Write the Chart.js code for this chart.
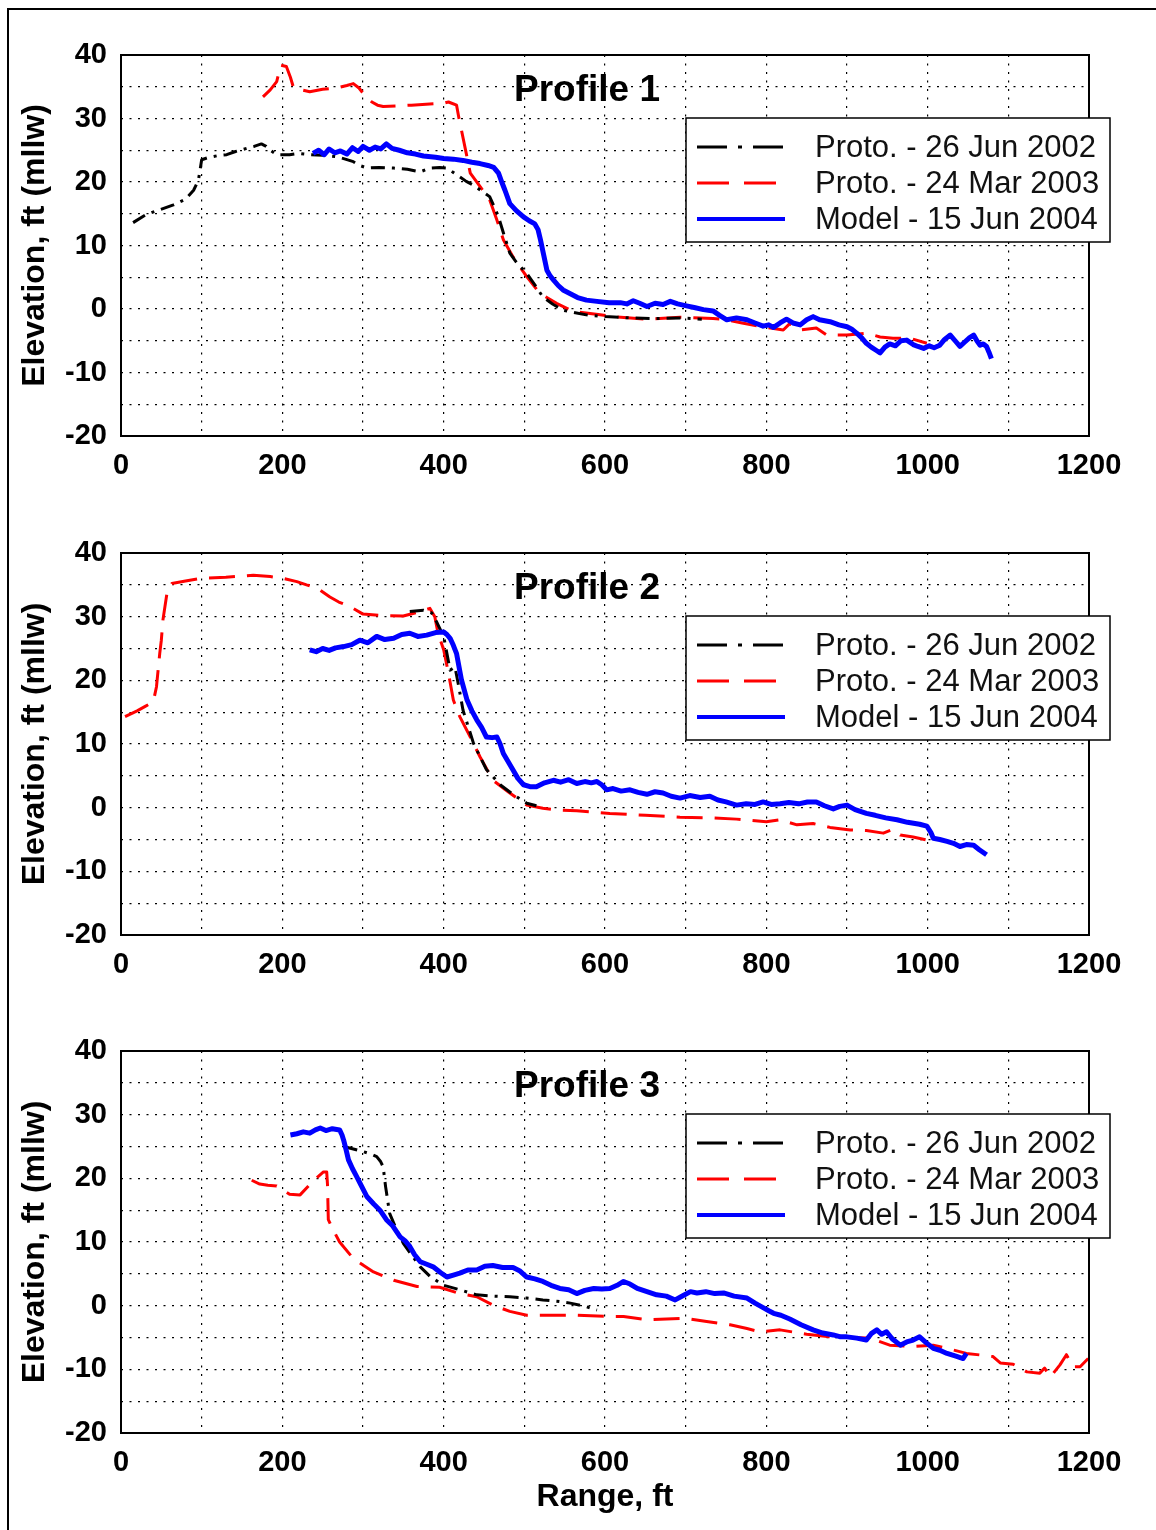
<!DOCTYPE html>
<html>
<head>
<meta charset="utf-8">
<script src="https://cdn.jsdelivr.net/npm/chart.js@4/dist/chart.umd.min.js"></script>
<style>
  html, body { margin: 0; padding: 0; background: #fff; width: 1156px; height: 1530px; overflow: hidden; }
  #frame { position: absolute; left: 7px; top: 8px; width: 1200px; height: 1600px;
           border-left: 2px solid #000; border-top: 2px solid #000; }
  .panel { position: absolute; left: 0; }
</style>
</head>
<body>
<div id="frame"></div>
<canvas id="p1" class="panel" width="1156" height="480" style="top:20px"></canvas>
<canvas id="p2" class="panel" width="1156" height="480" style="top:518px"></canvas>
<canvas id="p3" class="panel" width="1156" height="514" style="top:1016px"></canvas>
<script>
// ---- axis ticks / labels ----
const xTickLabels = [0, 200, 400, 600, 800, 1000, 1200];
const yTickLabels = [-20, -10, 0, 10, 20, 30, 40];
const seriesLabels = ['Proto. - 26 Jun 2002', 'Proto. - 24 Mar 2003', 'Model - 15 Jun 2004'];

// ---- Profile 1 ----
const p1BlackX = [15,30,45,65,80,90,96,100,107,114,122,131,142,156,165,174,180,185,193,200,209,220,234,250,267,278,288,296,305,320,338,355,371,383,395,404,412,420,428,437,447,457,463,468,474,482,490,503,513,523,535,548,560,580,600,630,660,693,720];
const p1BlackY = [13.6,14.8,15.5,16.4,17.3,18.7,20.3,23.5,23.8,24.0,24.2,24.3,24.8,25.3,25.6,26.0,25.6,25.0,24.3,24.3,24.3,24.5,24.3,24.2,24.0,23.6,23.2,22.6,22.2,22.3,22.2,22.0,21.6,22.2,22.3,22.2,21.5,20.8,20.1,19.5,18.6,17.7,16.0,14.5,12.0,8.8,7.4,5.6,3.8,1.9,0.8,-0.2,-0.5,-1.0,-1.2,-1.4,-1.5,-1.4,-1.6];
const p1RedX = [176,185,193,198,205,210,214,234,250,267,280,288,295,300,306,311,318,325,360,400,406,416,419,422,428,433,445,457,466,474,486,503,519,540,561,594,610,652,693,734,751,770,790,805,821,829,842,862,875,900,924,941,957,978,999];
const p1RedY = [33.4,34.5,35.8,38.4,38.2,36.5,34.8,34.2,34.6,34.8,35.2,35.5,34.8,34.0,33.2,32.6,32.1,31.9,32.1,32.4,32.6,32.1,30.0,28.2,24.5,21.4,19.3,17.2,14.0,10.9,8.2,5.1,2.5,0.9,-0.4,-0.9,-1.2,-1.6,-1.3,-1.5,-1.7,-2.2,-2.7,-3.0,-3.3,-2.3,-3.3,-3.0,-4.1,-4.1,-3.8,-4.4,-4.6,-4.6,-5.4];
const p1BlueX = [238,245,252,258,265,272,280,287,294,300,308,315,322,329,336,345,355,365,375,390,400,412,424,435,445,455,462,468,472,476,482,490,499,506,513,517,520,524,528,532,536,542,548,557,566,577,590,605,619,627,635,643,652,662,672,681,690,701,712,722,734,742,751,763,776,786,796,803,809,817,825,833,842,850,858,866,879,890,900,906,912,918,924,930,936,941,947,953,960,967,974,982,988,995,1002,1008,1015,1021,1028,1034,1040,1046,1052,1057,1061,1065,1069,1073,1076,1079];
const p1BlueY = [24.5,25.0,24.3,25.2,24.6,24.9,24.4,25.4,24.8,25.6,25.0,25.5,25.2,26.0,25.3,25.0,24.6,24.4,24.1,23.9,23.7,23.6,23.4,23.1,22.9,22.6,22.3,21.4,20.0,18.7,16.6,15.5,14.5,13.9,13.4,12.5,10.9,8.5,6.1,5.2,4.6,3.7,3.0,2.4,1.8,1.4,1.2,1.0,1.0,0.8,1.3,0.9,0.4,0.9,0.7,1.2,0.8,0.5,0.2,-0.1,-0.3,-1.0,-1.7,-1.4,-1.7,-2.2,-2.7,-2.5,-2.9,-2.2,-1.6,-2.2,-2.5,-1.7,-1.2,-1.7,-2.0,-2.5,-2.8,-3.2,-3.8,-4.5,-5.4,-6.0,-6.5,-6.9,-6.0,-5.5,-5.8,-5.0,-4.9,-5.6,-5.9,-6.2,-5.8,-6.1,-5.7,-4.8,-4.1,-5.0,-5.9,-5.2,-4.5,-4.1,-5.0,-5.7,-5.5,-5.9,-6.8,-7.8];

// ---- Profile 2 ----
const p2BlackX = [358,375,385,392,400,408,414,418,424,437,453,470,487,503,515];
const p2BlackY = [30.8,31.0,30.6,29.0,26.9,21.6,22.1,19.5,15.3,10.1,6.0,3.6,2.0,0.7,0.3];
const p2RedX = [5,20,30,40,44,48,50,52,57,63,80,98,130,152,164,185,201,218,230,243,259,270,284,300,320,350,371,383,389,393,400,406,412,420,433,445,461,482,503,523,545,565,606,650,693,730,763,800,817,838,858,879,904,924,945,957,966,982,1003];
const p2RedY = [14.3,15.2,15.9,16.6,19.0,24.2,26.3,29.5,33.7,35.2,35.6,36.0,36.2,36.4,36.5,36.3,36.0,35.5,35.0,34.5,33.1,32.3,31.6,30.4,30.2,30.1,30.8,31.3,30.0,27.4,24.8,21.1,16.9,14.3,11.1,8.0,4.3,2.3,0.4,-0.1,-0.4,-0.5,-0.9,-1.2,-1.5,-1.6,-1.8,-2.2,-1.9,-2.7,-2.5,-3.1,-3.5,-3.6,-4.0,-3.4,-4.3,-4.6,-5.2];
const p2BlueX = [234,242,250,258,266,276,286,296,306,317,327,338,348,358,368,379,390,400,404,408,412,416,422,429,435,441,447,453,460,466,470,474,480,486,492,499,507,515,525,536,545,555,565,575,583,590,596,602,610,620,631,641,652,662,672,682,693,705,718,730,740,750,763,775,786,796,806,817,828,840,851,862,872,883,891,900,910,924,935,948,962,975,990,999,1004,1007,1015,1024,1032,1040,1048,1057,1064,1073];
const p2BlueY = [24.8,24.5,25.0,24.7,25.1,25.3,25.6,26.3,25.9,26.9,26.4,26.6,27.2,27.4,26.9,27.1,27.5,27.6,27.2,26.6,25.5,24.2,20.1,16.9,15.2,13.8,12.6,11.1,11.0,11.1,10.0,8.5,7.2,5.9,4.6,3.6,3.3,3.3,3.9,4.3,4.0,4.4,3.8,4.1,3.9,4.1,3.6,2.8,3.0,2.6,2.8,2.4,2.1,2.5,2.3,1.8,1.5,1.9,1.6,1.8,1.2,0.9,0.4,0.6,0.5,0.9,0.5,0.6,0.8,0.6,0.9,0.9,0.3,-0.2,0.2,0.4,-0.3,-0.9,-1.2,-1.6,-1.9,-2.3,-2.6,-2.9,-3.9,-4.8,-5.0,-5.3,-5.6,-6.1,-5.8,-5.9,-6.6,-7.4];

// ---- Profile 3 ----
const p3BlackX = [276,288,300,310,317,322,325,328,333,342,350,360,371,383,400,420,441,462,482,503,523,540,557,575,590];
const p3BlackY = [25.0,24.6,24.2,23.8,23.4,22.6,21.8,18.7,14.5,11.8,9.8,8.0,6.1,4.6,3.2,2.5,1.7,1.5,1.4,1.2,0.9,0.7,0.4,-0.1,-0.7];
const p3RedX = [162,172,182,193,209,222,234,240,251,255,256,257,263,271,288,313,338,367,395,420,441,461,482,503,523,565,606,623,652,701,726,755,776,792,817,850,879,928,953,982,1007,1024,1048,1069,1081,1090,1106,1123,1139,1145,1152,1164,1172,1180,1189,1199];
const p3RedY = [19.7,19.1,18.9,18.8,17.5,17.4,19.0,19.8,21.0,21.0,19.0,13.5,11.9,10.0,7.4,5.3,4.0,3.0,2.9,1.9,1.4,0.1,-0.9,-1.5,-1.5,-1.5,-1.7,-1.7,-2.2,-2.0,-2.5,-3.0,-3.6,-4.1,-3.8,-4.5,-4.9,-5.1,-6.2,-6.4,-6.2,-6.7,-7.5,-7.8,-8.0,-9.0,-9.2,-10.4,-10.6,-9.8,-11.2,-9.3,-7.7,-9.6,-9.6,-8.3];
const p3BlueX = [210,218,226,234,241,247,254,262,271,274,276,279,282,287,292,298,305,313,321,329,337,346,352,358,364,371,379,387,396,404,412,420,430,441,451,461,473,486,494,503,513,523,533,544,555,565,575,586,596,606,615,623,631,640,652,664,676,687,697,706,714,725,736,747,760,776,786,796,803,809,818,829,843,858,870,883,892,900,912,924,930,937,943,949,956,966,974,982,990,998,1007,1015,1024,1034,1044,1048];
const p3BlueY = [26.8,27.0,27.3,27.1,27.6,27.9,27.5,27.8,27.6,26.8,26.0,24.5,22.9,21.5,20.3,18.8,17.1,16.0,15.0,13.5,12.5,10.8,10.2,9.3,8.0,6.9,6.5,6.1,5.2,4.5,4.8,5.1,5.6,5.6,6.2,6.3,6.0,6.0,5.5,4.5,4.2,3.8,3.2,2.7,2.5,1.9,2.4,2.7,2.6,2.7,3.2,3.8,3.4,2.7,2.2,1.7,1.5,0.9,1.6,2.2,2.0,2.2,1.9,2.0,1.5,1.2,0.4,-0.3,-0.8,-1.2,-1.5,-2.1,-3.0,-3.8,-4.3,-4.6,-4.9,-4.9,-5.1,-5.4,-4.4,-3.8,-4.5,-4.1,-5.2,-6.2,-5.7,-5.4,-4.9,-5.8,-6.7,-7.0,-7.5,-7.9,-8.3,-7.5];

const FONT = '"Liberation Sans", Arial, Helvetica, sans-serif';
Chart.defaults.font.family = FONT;
Chart.defaults.color = '#000';

const pts = (xs, ys) => xs.map((x, i) => ({ x: x, y: ys[i] }));

// line styles: [colour, width, dash in plot, dash in legend]
const styles = [
  ['#000000', 3, [14, 7, 3, 7], [30, 11, 4, 11]],
  ['#ff0000', 3, [26, 12], [32, 15]],
  ['#0000ff', 5, [], []]
];

// box around plot, title and legend drawn by hand
const decor = {
  id: 'decor',
  afterDraw(chart, args, opts) {
    const { ctx, chartArea: a } = chart;
    ctx.save();
    ctx.setLineDash([]);
    ctx.strokeStyle = '#000';
    ctx.lineWidth = 2;
    ctx.strokeRect(a.left, a.top, a.right - a.left, a.bottom - a.top);

    ctx.fillStyle = '#000';
    ctx.font = 'bold 37px ' + FONT;
    ctx.textAlign = 'center';
    ctx.textBaseline = 'middle';
    ctx.fillText(opts.title, a.left + 466, a.top + 36);

    const bx = a.left + 565, by = a.top + 63, bw = 424, bh = 124;
    ctx.fillStyle = '#fff';
    ctx.fillRect(bx, by, bw, bh);
    ctx.lineWidth = 1.5;
    ctx.strokeRect(bx, by, bw, bh);
    ctx.font = '31px ' + FONT;
    ctx.textAlign = 'left';
    chart.data.datasets.forEach((ds, i) => {
      const y = by + 29 + i * 36;
      ctx.beginPath();
      ctx.setLineDash(styles[i][3]);
      ctx.strokeStyle = ds.borderColor;
      ctx.lineWidth = i === 2 ? 4 : ds.borderWidth;
      ctx.moveTo(bx + 11, y);
      ctx.lineTo(bx + 99, y);
      ctx.stroke();
      ctx.setLineDash([]);
      ctx.fillStyle = '#111';
      ctx.fillText(ds.label, bx + 129, y + 1);
    });
    ctx.restore();
  }
};

function makePanel(id, title, series, xTitle) {
  const canvas = document.getElementById(id);
  const plotH = id === 'p1' ? 381 : 382;
  const xH = canvas.height - 35 - plotH;
  new Chart(canvas.getContext('2d'), {
    type: 'line',
    data: {
      datasets: series.map((s, i) => ({
        label: seriesLabels[i],
        data: pts(s[0], s[1]),
        borderColor: styles[i][0],
        borderWidth: styles[i][1],
        borderDash: styles[i][2],
        pointRadius: 0,
        tension: 0,
        fill: false,
        borderJoinStyle: 'round',
        order: [1, 2, 0][i]
      }))
    },
    options: {
      responsive: false,
      animation: false,
      devicePixelRatio: 1,
      layout: { padding: { top: 35, left: 0, right: 67, bottom: 0 } },
      plugins: { legend: { display: false }, tooltip: { enabled: false }, decor: { title: title } },
      scales: {
        x: {
          type: 'linear', min: 0, max: 1200,
          ticks: {
            stepSize: 100, autoSkip: false, maxRotation: 0, padding: 13,
            font: { size: 29, weight: 'bold' },
            callback: v => xTickLabels.includes(v) ? String(v) : ''
          },
          grid: { color: '#000', lineWidth: 1.2, drawTicks: false },
          border: { display: false, dash: [2, 6.5] },
          title: {
            display: !!xTitle, text: xTitle || '',
            font: { size: 32, weight: 'bold' }, padding: { top: 0, bottom: 14 }
          },
          afterFit: s => { s.height = xH; }
        },
        y: {
          min: -20, max: 40,
          ticks: {
            stepSize: 5, autoSkip: false, padding: 14,
            font: { size: 29, weight: 'bold' },
            callback: v => yTickLabels.includes(v) ? String(v) : ''
          },
          grid: { color: '#000', lineWidth: 1.2, drawTicks: false },
          border: { display: false, dash: [2, 6.5] },
          title: {
            display: true, text: 'Elevation, ft (mllw)',
            font: { size: 32, weight: 'bold' }, padding: { top: 16, bottom: 0 }
          },
          afterFit: s => { s.width = 121; }
        }
      }
    },
    plugins: [decor]
  });
}

makePanel('p1', 'Profile 1', [[p1BlackX, p1BlackY], [p1RedX, p1RedY], [p1BlueX, p1BlueY]]);
makePanel('p2', 'Profile 2', [[p2BlackX, p2BlackY], [p2RedX, p2RedY], [p2BlueX, p2BlueY]]);
makePanel('p3', 'Profile 3', [[p3BlackX, p3BlackY], [p3RedX, p3RedY], [p3BlueX, p3BlueY]], 'Range, ft');
</script>
</body>
</html>
